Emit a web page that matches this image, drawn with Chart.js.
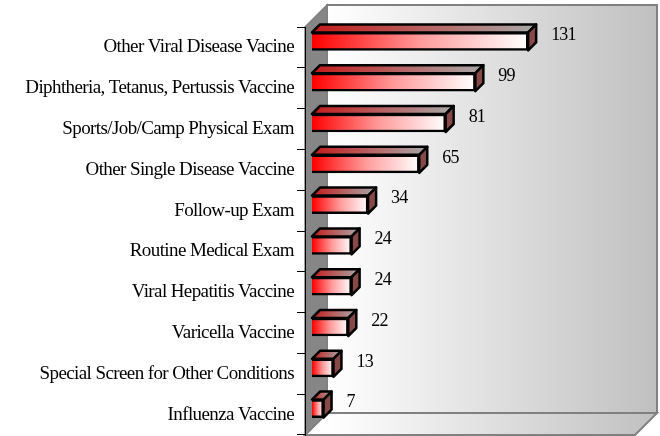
<!DOCTYPE html>
<html>
<head>
<meta charset="utf-8">
<script src="https://cdn.jsdelivr.net/npm/chart.js@4.4.1/dist/chart.umd.min.js"></script>
<style>
  html, body { margin: 0; padding: 0; background: #fff; }
  #wrap { width: 660px; height: 436px; }
</style>
</head>
<body>
<div id="wrap"><canvas id="myChart" width="660" height="436"></canvas></div>
<script>
// data
var categories = [
  'Other Viral Disease Vacine',
  'Diphtheria, Tetanus, Pertussis Vaccine',
  'Sports/Job/Camp Physical Exam',
  'Other Single Disease Vaccine',
  'Follow-up Exam',
  'Routine Medical Exam',
  'Viral Hepatitis Vaccine',
  'Varicella Vaccine',
  'Special Screen for Other Conditions',
  'Influenza Vaccine'
];
var visits = [131, 99, 81, 65, 34, 24, 24, 22, 13, 7];
var xMax = 200;

// 3d look
var wallX = 22, wallY = 22;   // depth of the box
var barX = 7, barY = -6;      // where the bars sit inside the box
var dep = 8;                  // depth of each bar
var serif = '"Liberation Serif", "Times New Roman", serif';

function barGradient(ctx) {
  var chart = ctx.chart;
  if (!chart.chartArea || ctx.type !== 'data') return '#ff0000';
  var x = chart.scales.x;
  var x0 = x.getPixelForValue(0);
  var x1 = x.getPixelForValue(visits[ctx.dataIndex]);
  var g = chart.ctx.createLinearGradient(x0, 0, x1, 0);
  g.addColorStop(0, '#ff0000');
  g.addColorStop(0.5, '#ff9a9a');
  g.addColorStop(1, '#ffffff');
  return g;
}

var box3d = {
  id: 'box3d',
  beforeDraw: function(chart) {
    var c = chart.ctx, a = chart.chartArea;
    c.save();
    // back wall
    var g = c.createLinearGradient(a.left + wallX, 0, a.right + wallX, 0);
    g.addColorStop(0, '#ffffff');
    g.addColorStop(1, '#c0c0c0');
    c.fillStyle = g;
    c.fillRect(a.left + wallX, a.top - wallY, a.right - a.left, a.bottom - a.top);
    c.strokeStyle = '#808080';
    c.lineWidth = 2;
    c.strokeRect(a.left + wallX, a.top - wallY, a.right - a.left, a.bottom - a.top);
    // floor
    c.beginPath();
    c.moveTo(a.left, a.bottom);
    c.lineTo(a.left + wallX, a.bottom - wallY);
    c.lineTo(a.right + wallX, a.bottom - wallY);
    c.lineTo(a.right, a.bottom);
    c.closePath();
    c.fillStyle = g;
    c.fill();
    c.stroke();
    // left wall
    c.beginPath();
    c.moveTo(a.left, a.top);
    c.lineTo(a.left + wallX, a.top - wallY);
    c.lineTo(a.left + wallX, a.bottom - wallY);
    c.lineTo(a.left, a.bottom);
    c.closePath();
    c.fillStyle = '#868686';
    c.fill();
    c.lineWidth = 1.5;
    c.stroke();
    c.restore();
    // tight lettering like the original for the axis labels
    c.save();
    c.letterSpacing = '-0.6px';
  },
  beforeDatasetsDraw: function(chart) {
    var c = chart.ctx;
    c.restore();
    c.save();
    c.translate(barX, barY);
    chart.getDatasetMeta(0).data.forEach(function(bar) {
      var p = bar.getProps(['x', 'y', 'base', 'height'], true);
      var l = p.base, r = p.x, t = p.y - p.height / 2, b = p.y + p.height / 2;
      c.lineWidth = 2.5;
      c.lineJoin = 'round';
      c.strokeStyle = '#000';
      // top face
      var tg = c.createLinearGradient(l, 0, r + dep, 0);
      tg.addColorStop(0, '#c41a1a');
      tg.addColorStop(1, '#a8a8a8');
      c.beginPath();
      c.moveTo(l, t);
      c.lineTo(l + dep, t - dep);
      c.lineTo(r + dep, t - dep);
      c.lineTo(r, t);
      c.closePath();
      c.fillStyle = tg;
      c.fill();
      c.stroke();
      // side face
      c.beginPath();
      c.moveTo(r, t);
      c.lineTo(r + dep, t - dep);
      c.lineTo(r + dep, b - dep);
      c.lineTo(r, b);
      c.closePath();
      c.fillStyle = '#874848';
      c.fill();
      c.stroke();
    });
  },
  afterDatasetsDraw: function(chart) {
    var c = chart.ctx;
    c.restore();
    c.save();
    c.font = '18px ' + serif;
    c.letterSpacing = '-0.8px';
    c.fillStyle = '#000';
    c.textBaseline = 'middle';
    c.textAlign = 'left';
    chart.getDatasetMeta(0).data.forEach(function(bar, i) {
      var p = bar.getProps(['x', 'y'], true);
      c.fillText(String(visits[i]), p.x + barX + 23, p.y + barY - 6);
    });
    c.restore();
  }
};

const data = {
  labels: categories,
  datasets: [{
    label: 'Visits',
    data: visits,
    backgroundColor: barGradient,
    borderColor: '#000',
    borderWidth: 2.5,
    barThickness: 18,
    clip: false
  }]
};

const config = {
  type: 'bar',
  data: data,
  options: {
    indexAxis: 'y',
    responsive: false,
    animation: false,
    layout: { padding: { left: 0, right: 25, top: 27, bottom: 1 } },
    plugins: {
      legend: { display: false },
      tooltip: { enabled: false }
    },
    scales: {
      x: {
        display: false,
        min: 0,
        max: xMax
      },
      y: {
        afterFit: function(scale) {
          scale.width = 305;
          scale.paddingTop = 0;
          scale.paddingBottom = 0;
        },
        grid: {
          drawOnChartArea: false,
          drawTicks: true,
          tickLength: 8,
          color: '#000',
          offset: true
        },
        border: { display: true, color: '#000', width: 1 },
        ticks: {
          color: '#000',
          padding: 3,
          font: { family: serif, size: 19 }
        }
      }
    }
  },
  plugins: [box3d]
};

const myChart = new Chart(document.getElementById('myChart'), config);
</script>
</body>
</html>
